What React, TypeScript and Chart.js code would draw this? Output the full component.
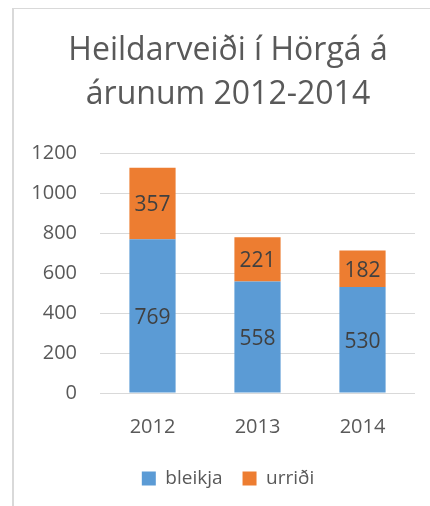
import React, { useEffect, useRef } from "react";
import { Chart, registerables } from "chart.js";

Chart.register(...registerables);

const titleLines = ["Heildarveiði í Hörgá á", "árunum 2012-2014"];
const categories = ["2012", "2013", "2014"];
const bleikja = [769, 558, 530];
const urridi = [357, 221, 182];
const seriesNames = ["bleikja", "urriði"];
const yTicks = [0, 200, 400, 600, 800, 1000, 1200];

const FONT = "'Open Sans'";
const TEXT = "#595959";
const LABEL = "#404040";
const GRID = "#d9d9d9";

const dataLabels = {
  id: "dataLabels",
  afterDatasetsDraw(chart: any) {
    const ctx = chart.ctx;
    ctx.save();
    ctx.font = `21px ${FONT}`;
    ctx.fillStyle = LABEL;
    ctx.textAlign = "center";
    ctx.textBaseline = "middle";
    chart.data.datasets.forEach((ds: any, di: number) => {
      const meta = chart.getDatasetMeta(di);
      meta.data.forEach((el: any, i: number) => {
        const { x, y, base } = el.getProps(["x", "y", "base"], true);
        ctx.fillText(String(ds.data[i]), x, (y + base) / 2 + 2);
      });
    });
    ctx.restore();
  },
};

export default function App() {
  const ref = useRef<HTMLCanvasElement>(null);
  useEffect(() => {
    if (!ref.current) return;
    const chart = new Chart(ref.current, {
      type: "bar",
      data: {
        labels: categories,
        datasets: [
          { label: seriesNames[0], data: bleikja, backgroundColor: "#5B9BD5" },
          { label: seriesNames[1], data: urridi, backgroundColor: "#ED7D31" },
        ],
      },
      options: {
        animation: false,
        responsive: false,
        maintainAspectRatio: false,
        layout: { padding: { left: 0, right: 0, top: 0, bottom: 8 } },
        datasets: {
          bar: { categoryPercentage: 1, barPercentage: 0.44 },
        },
        scales: {
          x: {
            stacked: true,
            grid: { display: false, drawTicks: false },
            border: { display: false },
            ticks: { color: TEXT, font: { family: FONT, size: 20 }, padding: 22 },
            afterFit: (s: any) => {
              s.height = 56;
            },
          },
          y: {
            stacked: true,
            min: 0,
            max: 1200,
            afterBuildTicks: (s: any) => {
              s.ticks = yTicks.map((v) => ({ value: v }));
            },
            afterFit: (s: any) => {
              s.width = 100;
            },
            grid: { color: GRID, lineWidth: 1, drawTicks: false },
            border: { display: false },
            ticks: {
              color: TEXT,
              font: { family: FONT, size: 20 },
              padding: 23,
              callback: (v: any) => String(v),
            },
          },
          yRight: {
            position: "right",
            display: true,
            grid: { display: false, drawTicks: false },
            border: { display: false },
            ticks: { display: false },
            afterFit: (s: any) => {
              s.width = 41;
            },
          },
        },
        plugins: {
          title: {
            display: true,
            text: titleLines,
            color: TEXT,
            font: { family: FONT, size: 32, weight: "normal", lineHeight: 1.375 },
            padding: { top: 29, bottom: 36 },
          },
          legend: {
            position: "bottom",
            labels: {
              boxWidth: 14,
              boxHeight: 14,
              color: TEXT,
              font: { family: FONT, size: 19 },
              padding: 20,
            },
          },
          tooltip: { enabled: false },
        },
      },
      plugins: [dataLabels],
    });
    return () => chart.destroy();
  }, []);

  return (
    <div style={{ position: "absolute", left: 0, top: 0, width: 430, height: 506, background: "#fff", overflow: "hidden" }}>
      <div
        style={{
          position: "absolute",
          left: 12,
          top: 8,
          width: 440,
          height: 520,
          borderLeft: "2px solid #d9d9d9",
          borderTop: "1px solid #d9d9d9",
        }}
      />
      <canvas ref={ref} width={456} height={506} style={{ position: "absolute", left: 0, top: 0 }} />
    </div>
  );
}
